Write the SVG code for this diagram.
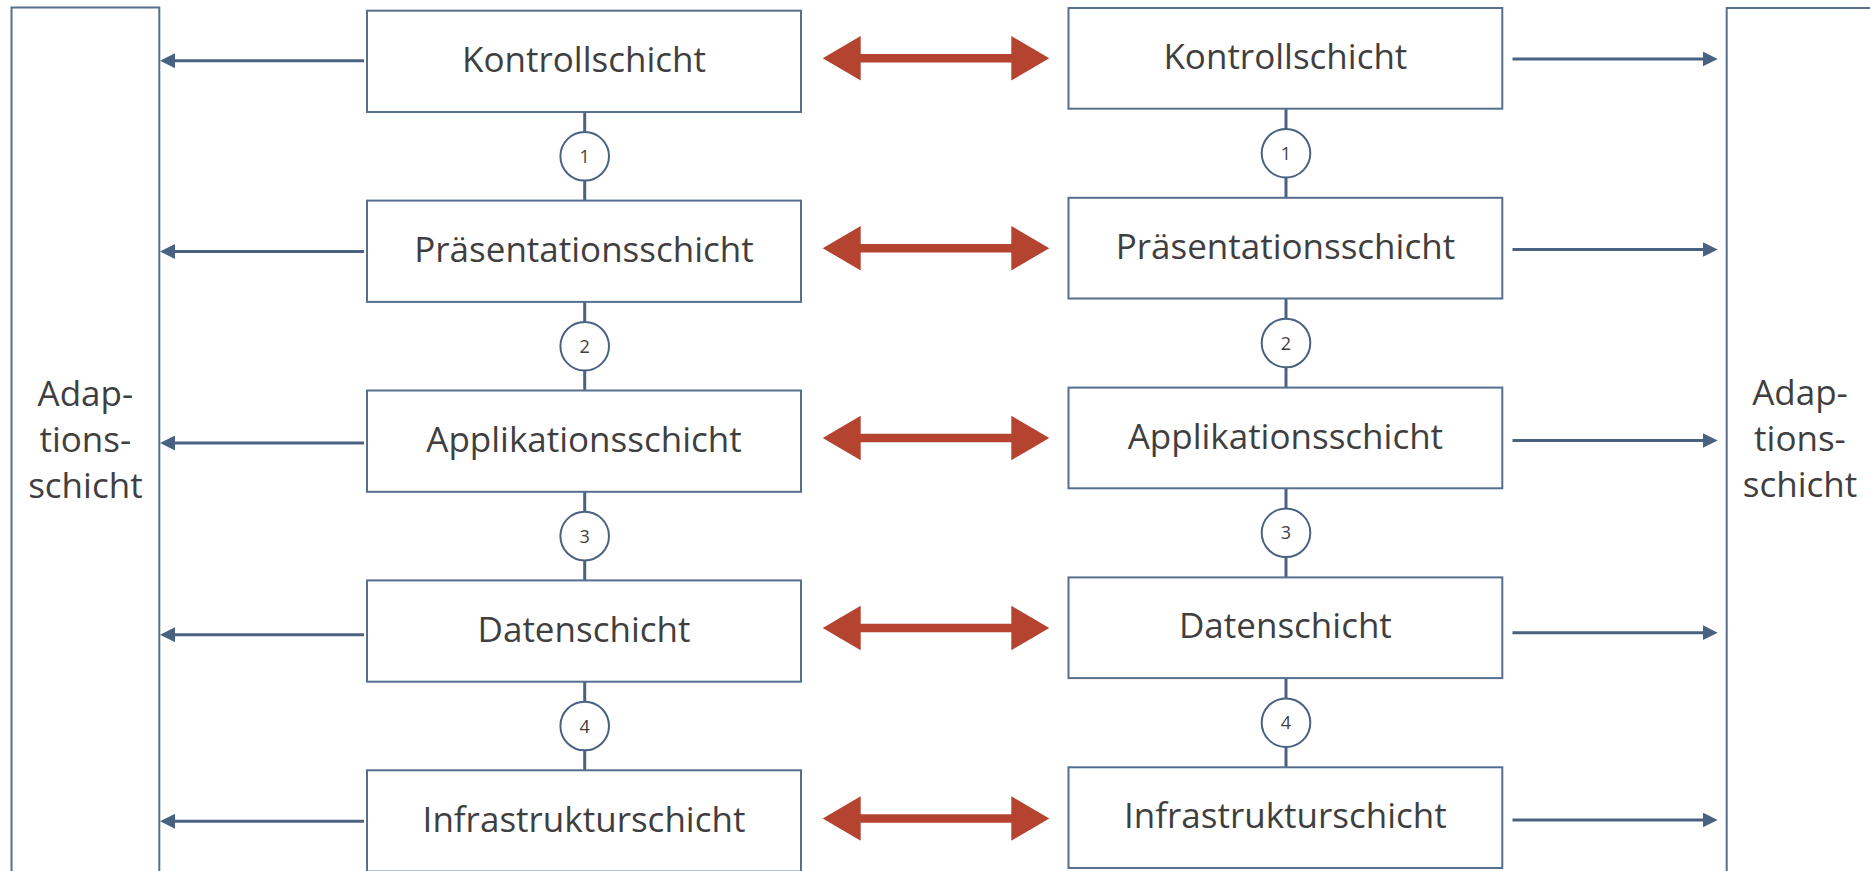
<svg xmlns="http://www.w3.org/2000/svg" width="1870" height="871" viewBox="0 0 1870 871">
<style>
.box{fill:#ffffff;stroke:#566f8e;stroke-width:2}
.lbl{font-family:"Open Sans","Noto Sans","Liberation Sans",sans-serif;font-size:35px;fill:#3f3f3f;text-anchor:middle}
.num{font-family:"Open Sans","Noto Sans","Liberation Sans",sans-serif;font-size:18px;fill:#3f3f3f;text-anchor:middle}
.circ{fill:#ffffff;stroke:#4a6282;stroke-width:2}
.link{stroke:#4a6282;stroke-width:3;fill:none}
.arr{stroke:#4a6282;stroke-width:3;fill:none;marker-end:url(#ah)}
.red{fill:#b4432f}
</style>
<defs>
<marker id="ah" markerUnits="userSpaceOnUse" markerWidth="15" markerHeight="15" refX="5" refY="7.5" orient="auto">
<path d="M0,0 L15,7.5 L0,15 z" fill="#4a6282"/>
</marker>
<polygon id="dbl" points="822.7,0 860.7,-22.3 860.7,-4.2 1011.3,-4.2 1011.3,-22.3 1049.3,0 1011.3,22.3 1011.3,4.2 860.7,4.2 860.7,22.3"/>
</defs>

<g id="adaption-left">
<rect class="box" x="11.5" y="7.5" width="147.8" height="900"/>
<text class="lbl" x="85.4" y="406">Adap-</text>
<text class="lbl" x="85.4" y="452">tions-</text>
<text class="lbl" x="85.4" y="498">schicht</text>
</g>
<g id="adaption-right">
<rect class="box" x="1726.7" y="8" width="200" height="900"/>
<text class="lbl" x="1800" y="405">Adap-</text>
<text class="lbl" x="1800" y="451">tions-</text>
<text class="lbl" x="1800" y="497">schicht</text>
</g>

<g id="connectors">
<!-- left column vertical links -->
<line class="link" x1="584.7" y1="112" x2="584.7" y2="200.6"/>
<line class="link" x1="584.7" y1="301.9" x2="584.7" y2="390.5"/>
<line class="link" x1="584.7" y1="491.8" x2="584.7" y2="580.4"/>
<line class="link" x1="584.7" y1="681.7" x2="584.7" y2="770.3"/>
<!-- right column vertical links -->
<line class="link" x1="1286" y1="108.7" x2="1286" y2="197.8"/>
<line class="link" x1="1286" y1="298.5" x2="1286" y2="387.6"/>
<line class="link" x1="1286" y1="488.3" x2="1286" y2="577.4"/>
<line class="link" x1="1286" y1="678.1" x2="1286" y2="767.3"/>
<!-- left arrows to adaption -->
<line class="arr" x1="364" y1="60.7" x2="170" y2="60.7"/>
<line class="arr" x1="364" y1="251.5" x2="170" y2="251.5"/>
<line class="arr" x1="364" y1="443" x2="170" y2="443"/>
<line class="arr" x1="364" y1="634.7" x2="170" y2="634.7"/>
<line class="arr" x1="364" y1="821.3" x2="170" y2="821.3"/>
<!-- right arrows to adaption -->
<line class="arr" x1="1512.5" y1="59" x2="1707.7" y2="59"/>
<line class="arr" x1="1512.5" y1="249.5" x2="1707.7" y2="249.5"/>
<line class="arr" x1="1512.5" y1="440.5" x2="1707.7" y2="440.5"/>
<line class="arr" x1="1512.5" y1="632.7" x2="1707.7" y2="632.7"/>
<line class="arr" x1="1512.5" y1="820" x2="1707.7" y2="820"/>
<!-- red double arrows -->
<use href="#dbl" class="red" transform="translate(0,58.3)"/>
<use href="#dbl" class="red" transform="translate(0,248.2)"/>
<use href="#dbl" class="red" transform="translate(0,438)"/>
<use href="#dbl" class="red" transform="translate(0,628)"/>
<use href="#dbl" class="red" transform="translate(0,818.5)"/>
</g>

<g id="circles-left">
<g id="cl1"><circle class="circ" cx="584.7" cy="156.3" r="24.3"/><text class="num" x="584.7" y="162.8">1</text></g>
<g id="cl2"><circle class="circ" cx="584.7" cy="346.2" r="24.3"/><text class="num" x="584.7" y="352.7">2</text></g>
<g id="cl3"><circle class="circ" cx="584.7" cy="536.1" r="24.3"/><text class="num" x="584.7" y="542.6">3</text></g>
<g id="cl4"><circle class="circ" cx="584.7" cy="726" r="24.3"/><text class="num" x="584.7" y="732.5">4</text></g>
</g>
<g id="circles-right">
<g id="cr1"><circle class="circ" cx="1286" cy="153.2" r="24.3"/><text class="num" x="1286" y="159.7">1</text></g>
<g id="cr2"><circle class="circ" cx="1286" cy="343" r="24.3"/><text class="num" x="1286" y="349.5">2</text></g>
<g id="cr3"><circle class="circ" cx="1286" cy="532.8" r="24.3"/><text class="num" x="1286" y="539.3">3</text></g>
<g id="cr4"><circle class="circ" cx="1286" cy="722.7" r="24.3"/><text class="num" x="1286" y="729.2">4</text></g>
</g>

<g id="left-kontroll"><rect class="box" x="367" y="10.7" width="434" height="101.3"/><text class="lbl" x="584" y="72.3">Kontrollschicht</text></g>
<g id="left-praesentation"><rect class="box" x="367" y="200.6" width="434" height="101.3"/><text class="lbl" x="584" y="262.2">Präsentationsschicht</text></g>
<g id="left-applikation"><rect class="box" x="367" y="390.5" width="434" height="101.3"/><text class="lbl" x="584" y="452.1">Applikationsschicht</text></g>
<g id="left-daten"><rect class="box" x="367" y="580.4" width="434" height="101.3"/><text class="lbl" x="584" y="642">Datenschicht</text></g>
<g id="left-infrastruktur"><rect class="box" x="367" y="770.3" width="434" height="101.3"/><text class="lbl" x="584" y="831.9">Infrastrukturschicht</text></g>

<g id="right-kontroll"><rect class="box" x="1068.5" y="8" width="433.8" height="100.7"/><text class="lbl" x="1285.4" y="69">Kontrollschicht</text></g>
<g id="right-praesentation"><rect class="box" x="1068.5" y="197.8" width="433.8" height="100.7"/><text class="lbl" x="1285.4" y="258.8">Präsentationsschicht</text></g>
<g id="right-applikation"><rect class="box" x="1068.5" y="387.6" width="433.8" height="100.7"/><text class="lbl" x="1285.4" y="448.6">Applikationsschicht</text></g>
<g id="right-daten"><rect class="box" x="1068.5" y="577.4" width="433.8" height="100.7"/><text class="lbl" x="1285.4" y="638.3">Datenschicht</text></g>
<g id="right-infrastruktur"><rect class="box" x="1068.5" y="767.3" width="433.8" height="100.7"/><text class="lbl" x="1285.4" y="828.3">Infrastrukturschicht</text></g>
</svg>
